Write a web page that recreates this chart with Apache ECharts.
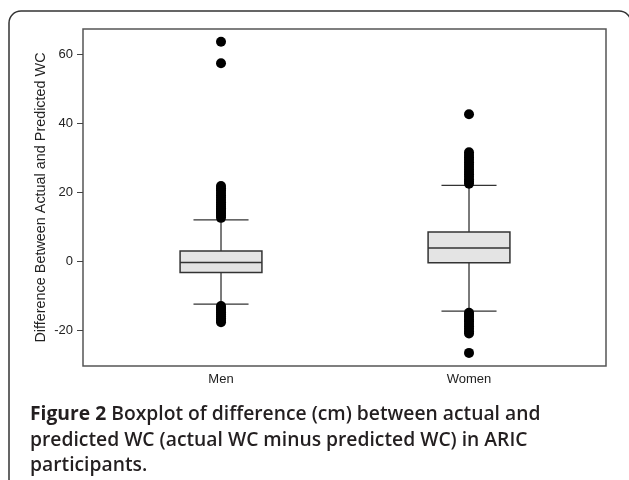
<!DOCTYPE html>
<html>
<head>
<meta charset="utf-8">
<script src="https://cdn.jsdelivr.net/npm/echarts@6/dist/echarts.min.js"></script>
<style>
html,body{margin:0;padding:0;background:#fff;}
#chart{width:629px;height:480px;}
</style>
</head>
<body>
<div id="chart"></div>
<script>
// ---- data ----
var categories = ['Men', 'Women'];
// [min whisker, Q1, median, Q3, max whisker]
var menBox = [-12.4, -3.2, -0.3, 3.0, 12.0];
var womenBox = [-14.4, -0.4, 3.9, 8.5, 22.0];
var menOutliers = [12.6, 13.2, 13.8, 14.3, 14.9, 15.4, 15.9, 16.5, 17.1, 17.8, 18.4, 19.1, 19.8, 20.5, 21.2, 21.8, 57.4, 63.6,
  -12.9, -13.5, -14.1, -14.7, -15.3, -15.9, -16.5, -17.1, -17.6];
var womenOutliers = [22.5, 23.1, 23.8, 24.5, 25.2, 25.9, 26.6, 27.3, 28.0, 28.7, 29.4, 30.1, 30.8, 31.6, 42.6,
  -14.9, -15.5, -16.1, -16.8, -17.4, -18.1, -18.8, -19.5, -20.2, -20.9, -26.5];
var yTicks = [-20, 0, 20, 40, 60];
var yTitle = 'Difference Between Actual and Predicted WC';
var captionBold = 'Figure 2';
var captionLines = [
  ' Boxplot of difference (cm) between actual and',
  'predicted WC (actual WC minus predicted WC) in ARIC',
  'participants.'
];

// ---- build ----
var boxData = [[0].concat(menBox), [1].concat(womenBox)];
var outlierData = menOutliers.map(function (v) { return [0, v]; })
  .concat(womenOutliers.map(function (v) { return [1, v]; }));

var BOX_W = 0.33, CAP_W = 0.222;
var lineStyle = { stroke: '#333', lineWidth: 1.3 };

var chart = echarts.init(document.getElementById('chart'));
chart.setOption({
  animation: false,
  backgroundColor: '#fff',
  title: {
    text: '{b|' + captionBold + '}' + captionLines.join('\n'),
    left: 25,
    top: 397,
    textStyle: {
      fontFamily: 'Open Sans',
      fontSize: 19.3,
      fontWeight: 600,
      color: '#231f20',
      lineHeight: 25.5,
      rich: {
        b: { fontFamily: 'Open Sans', fontSize: 19.3, fontWeight: 'bold', color: '#231f20', lineHeight: 25.5 }
      }
    }
  },
  graphic: [{
    type: 'rect',
    shape: { x: 9, y: 11, width: 622, height: 480, r: 12 },
    style: { fill: 'none', stroke: '#333', lineWidth: 1.5 },
    silent: true
  }],
  grid: {
    left: 83, top: 29, width: 523, height: 337,
    show: true, borderColor: '#555', borderWidth: 1.5, backgroundColor: 'transparent'
  },
  xAxis: {
    type: 'value',
    min: -0.5565, max: 1.5524,
    axisLine: { show: false, onZero: false },
    axisTick: { show: false },
    splitLine: { show: false },
    axisLabel: {
      customValues: [0, 1],
      formatter: function (v) { return categories[Math.round(v)] || ''; },
      fontFamily: 'Arial, Liberation Sans',
      fontSize: 13,
      color: '#222',
      margin: 7
    }
  },
  yAxis: {
    type: 'value',
    min: -30.3, max: 67.3,
    name: yTitle,
    nameLocation: 'middle',
    nameGap: 35,
    nameMoveOverlap: false,
    nameTextStyle: { fontFamily: 'Arial, Liberation Sans', fontSize: 14.4, color: '#222' },
    axisLine: { show: false, onZero: false },
    splitLine: { show: false },
    axisTick: { show: true, length: 6, customValues: yTicks, lineStyle: { color: '#444', width: 1 } },
    axisLabel: {
      customValues: yTicks,
      fontFamily: 'Arial, Liberation Sans',
      fontSize: 13,
      color: '#222',
      margin: 10
    }
  },
  series: [{
    type: 'custom',
    data: boxData,
    z: 2,
    renderItem: function (params, api) {
      var x = api.value(0);
      var lo = api.coord([x, api.value(1)]);
      var q1 = api.coord([x, api.value(2)]);
      var md = api.coord([x, api.value(3)]);
      var q3 = api.coord([x, api.value(4)]);
      var hi = api.coord([x, api.value(5)]);
      var bw = api.size([BOX_W, 0])[0];
      var cw = api.size([CAP_W, 0])[0];
      return {
        type: 'group',
        children: [
          { type: 'line', shape: { x1: hi[0], y1: hi[1], x2: q3[0], y2: q3[1] }, style: lineStyle },
          { type: 'line', shape: { x1: lo[0], y1: lo[1], x2: q1[0], y2: q1[1] }, style: lineStyle },
          { type: 'line', shape: { x1: hi[0] - cw / 2, y1: hi[1], x2: hi[0] + cw / 2, y2: hi[1] }, style: lineStyle },
          { type: 'line', shape: { x1: lo[0] - cw / 2, y1: lo[1], x2: lo[0] + cw / 2, y2: lo[1] }, style: lineStyle },
          { type: 'rect', shape: { x: q3[0] - bw / 2, y: q3[1], width: bw, height: q1[1] - q3[1] },
            style: { fill: '#e4e4e4', stroke: '#333', lineWidth: 1.5 } },
          { type: 'line', shape: { x1: md[0] - bw / 2, y1: md[1], x2: md[0] + bw / 2, y2: md[1] },
            style: { stroke: '#333', lineWidth: 1.5 } }
        ]
      };
    }
  }, {
    type: 'scatter',
    data: outlierData,
    symbol: 'circle',
    symbolSize: 10,
    z: 3,
    itemStyle: { color: '#000', opacity: 1 }
  }]
});
</script>
</body>
</html>
